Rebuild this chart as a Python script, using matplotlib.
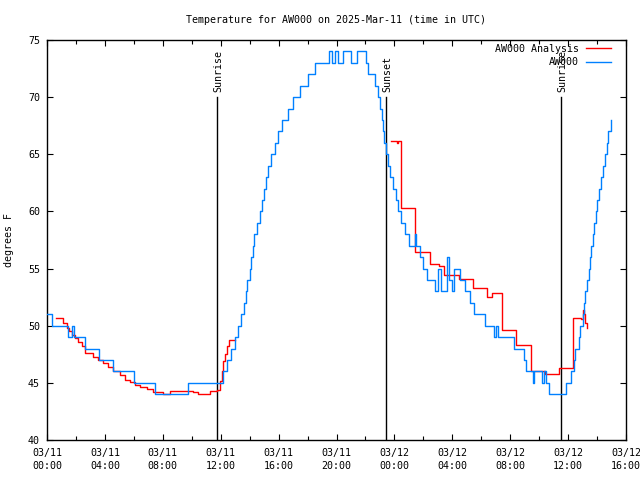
import numpy as np
import matplotlib
matplotlib.use("Agg")
import matplotlib.pyplot as plt
from matplotlib.ticker import MultipleLocator

plt.rcParams['font.family'] = ['DejaVu Sans Mono']

title = "Temperature for AW000 on 2025-Mar-11 (time in UTC)"
ylabel = "degrees F"

# hours since 03/11 00:00 UTC
obs_hours = [0.0, 0.35, 1.45, 1.75, 1.85, 2.62, 3.6, 4.56, 6.0, 7.46, 9.74,
             12.19, 12.45, 12.72, 12.97, 13.2, 13.37, 13.58, 13.72, 13.85, 13.99,
             14.12, 14.23, 14.33, 14.52, 14.7, 14.83, 14.99, 15.16, 15.3, 15.47,
             15.74, 15.98, 16.21, 16.65, 16.99, 17.48, 18.03, 18.51, 19.45, 19.67,
             19.88, 20.1, 20.42, 20.98, 21.45, 22.05, 22.2, 22.66, 22.89, 22.98,
             23.12, 23.18, 23.28, 23.42, 23.59, 23.73, 23.88, 24.12, 24.25, 24.45,
             24.7, 24.98, 25.45, 25.52, 25.75, 25.98, 26.22, 26.8, 26.98, 27.2,
             27.6, 27.78, 28.0, 28.15, 28.55, 28.85, 29.25, 29.5, 30.27, 30.85,
             31.05, 31.15, 32.28, 32.98, 33.1, 33.57, 33.65, 34.22, 34.35, 34.5,
             34.68, 35.85, 36.22, 36.4, 36.5, 36.75, 36.85, 37.0, 37.1, 37.2,
             37.3, 37.42, 37.5, 37.6, 37.72, 37.8, 37.9, 38.02, 38.13, 38.24,
             38.4, 38.55, 38.67, 38.79, 38.95]
obs_temps = [51, 50, 49, 50, 49, 48, 47, 46, 45, 44, 45,
             46, 47, 48, 49, 50, 51, 52, 53, 54, 55,
             56, 57, 58, 59, 60, 61, 62, 63, 64, 65,
             66, 67, 68, 69, 70, 71, 72, 73, 74, 73,
             74, 73, 74, 73, 74, 73, 72, 71, 70, 69,
             68, 67, 66, 65, 64, 63, 62, 61, 60, 59,
             58, 57, 58, 57, 56, 55, 54, 53, 55, 53,
             56, 54, 53, 55, 54, 53, 52, 51, 50, 49,
             50, 49, 48, 47, 46, 45, 46, 45, 46, 45,
             44, 45, 46, 47, 48, 49, 50, 51, 52, 53,
             54, 55, 56, 57, 58, 59, 60, 61, 62, 63,
             64, 65, 66, 67, 68]

ana_hours = [0.62, 1.13, 1.36, 1.54, 1.71, 1.93, 2.16, 2.4, 2.62, 3.2,
             3.54, 3.87, 4.23, 4.58, 5.04, 5.39, 5.73, 6.08, 6.42, 6.89,
             7.35, 8.03, 8.5, 10.1, 10.45, 11.26, 11.72, 11.95, 12.06, 12.17,
             12.28, 12.44, 12.58, 12.92, 13.0,
             23.76, 24.2, 24.27, 24.43, 25.42, 26.45, 27.1, 27.45, 28.45, 29.4,
             30.38, 30.75, 31.45, 32.42, 33.45, 34.42, 35.35, 36.32, 36.9, 37.02,
             37.12, 37.18, 37.28]
ana_temps = [50.65, 50.26, 49.8, 49.5, 49.2, 48.9, 48.6, 48.2, 47.6, 47.3,
             47.0, 46.7, 46.4, 46.0, 45.7, 45.25, 45.1, 44.8, 44.65, 44.5,
             44.2, 44.05, 44.3, 44.2, 44.05, 44.3, 44.4, 45.2, 46.0, 46.9,
             47.5, 48.2, 48.75, 48.75, np.nan,
             66.16, 66.0, 66.2, 60.3, 56.45, 55.4, 55.2, 54.45, 54.1, 53.3,
             52.54, 52.84, 49.6, 48.3, 46.05, 45.75, 46.3, 50.65, 50.55, 51.4,
             51.0, 50.2, 49.8]

event_hours = [11.74, 23.42, 35.51]
event_labels = ["Sunrise", "Sunset", "Sunrise"]
event_top = 70

xtick_hours = [0, 4, 8, 12, 16, 20, 24, 28, 32, 36, 40]
xtick_labels = ["03/11\n00:00", "03/11\n04:00", "03/11\n08:00", "03/11\n12:00",
                "03/11\n16:00", "03/11\n20:00", "03/12\n00:00", "03/12\n04:00",
                "03/12\n08:00", "03/12\n12:00", "03/12\n16:00"]

fig = plt.figure(figsize=(6.4, 4.8), dpi=100)
ax = fig.add_axes([47/640, 40/480, (626-47)/640, 400/480])

fs = 7.2
ax.plot(ana_hours, ana_temps, color='#ff0000', lw=1.0, drawstyle='steps-post',
        label='AW000 Analysis', zorder=3)
ax.plot(obs_hours, obs_temps, color='#0080ff', lw=1.0, drawstyle='steps-post',
        label='AW000', zorder=3)

for h, lab in zip(event_hours, event_labels):
    ax.plot([h, h], [40, event_top], color='black', lw=1.0, zorder=2)
    ax.annotate(lab, xy=(h, event_top), xytext=(1, 4), textcoords='offset points',
                rotation=90, ha='center', va='bottom', fontsize=fs)

ax.set_xlim(0, 40)
ax.set_ylim(40, 75)
ax.set_xticks(xtick_hours)
ax.set_xticklabels(xtick_labels, fontsize=fs, linespacing=1.35)
ax.xaxis.set_minor_locator(MultipleLocator(2))
ax.set_yticks(range(40, 76, 5))
ax.set_yticklabels([str(v) for v in range(40, 76, 5)], fontsize=fs)
ax.tick_params(which='both', direction='in', top=True, right=True, width=0.8)
ax.tick_params(axis='x', which='major', length=4, pad=6)
ax.tick_params(axis='y', which='major', length=4, pad=5)
ax.tick_params(which='minor', length=3)
for s in ax.spines.values():
    s.set_linewidth(1.0)

ax.set_title(title, fontsize=fs, pad=12)
ax.set_ylabel(ylabel, fontsize=fs, labelpad=10)

ax.legend(loc='upper right', bbox_to_anchor=((611-47)/579, 1 - 4/400),
          frameon=False, fontsize=fs, markerfirst=False,
          handlelength=2.5, handletextpad=0.7, labelspacing=0.35,
          borderaxespad=0.0, borderpad=0.0)

fig.savefig("out.png", dpi=100)
